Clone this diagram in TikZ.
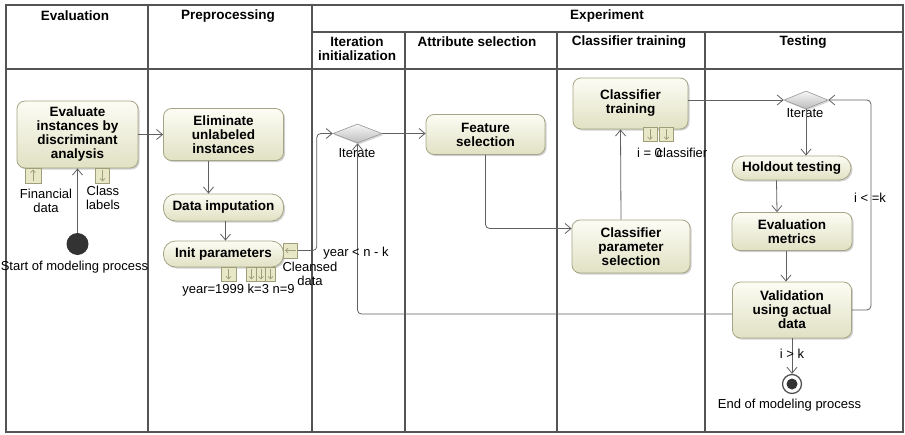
\documentclass[tikz,border=0pt]{standalone}
\usepackage{fontspec}
\setmainfont{Liberation Sans}
\usepackage{xcolor}
\usepackage{tikz}
\usetikzlibrary{arrows.meta, positioning, shapes.geometric, shadows}
\definecolor{umlLane}{HTML}{545454}
\definecolor{umlEdge}{HTML}{606060}
\definecolor{umlActTop}{HTML}{FCFCF4}
\definecolor{umlActBot}{HTML}{E1E1C4}
\definecolor{umlActLine}{HTML}{A5A585}
\definecolor{umlPinFill}{HTML}{E8E8C9}
\definecolor{umlPinLine}{HTML}{9E9E78}
\definecolor{umlDecTop}{HTML}{F6F6F6}
\definecolor{umlDecBot}{HTML}{BDBDBD}
\definecolor{umlDot}{HTML}{333333}

\begin{document}
\begin{tikzpicture}[x=1pt, y=-1pt,
  every node/.style={font=\fontsize{13}{14}\selectfont, align=center,
                     inner sep=1pt},
  lane/.style={draw=umlLane, line width=1.9pt},
  head/.style={font=\fontsize{13.5}{14}\selectfont\bfseries},
  action/.style={draw=umlActLine, line width=0.8pt, rounded corners=8pt,
                 top color=umlActTop, bottom color=umlActBot,
                 font=\fontsize{13.5}{14}\selectfont\bfseries,
                 drop shadow={shadow xshift=1.5pt, shadow yshift=-1.5pt,
                              fill=black!40, opacity=0.45}},
  pill/.style={action, rounded corners=12pt},
  decision/.style={diamond, draw=umlDecBot!80!black, line width=0.6pt,
                   top color=umlDecTop, bottom color=umlDecBot,
                   minimum width=49pt, minimum height=19pt, inner sep=0pt,
                   drop shadow={shadow xshift=1.5pt, shadow yshift=-1.5pt,
                                fill=black!40, opacity=0.4}},
  pinbox/.style={draw=umlPinLine, line width=0.6pt, fill=umlPinFill,
                 minimum width=14pt, minimum height=14pt, inner sep=0pt},
  slimpin/.style={pinbox, minimum width=9.5pt},
  pinglyph/.style={draw=umlPinLine, line width=0.6pt,
                   -{Straight Barb[length=2.5pt, width=5pt]},
                   shorten <=2pt, shorten >=2pt},
  flow/.style={draw=umlEdge, line width=0.8pt,
               -{Straight Barb[length=6pt, width=10pt]}},
  elbow/.style={flow, rounded corners=4pt},
  startnode/.style={circle, fill=umlDot, minimum size=22pt, inner sep=0pt},
  endnode/.style={circle, draw=umlLane, line width=1.3pt, fill=white,
                  minimum size=19pt, inner sep=0pt},
]
\useasboundingbox (0,0) rectangle (905,434);

% --- Swimlane frame and headers --------------------------------------
\draw[lane] (6,5) rectangle (903,432);
\draw[lane] (148,5) -- (148,432);
\draw[lane] (312,5) -- (312,432);
\draw[lane] (405,32) -- (405,432);
\draw[lane] (557,32) -- (557,432);
\draw[lane] (705,32) -- (705,432);
\draw[lane] (312,32) -- (903,32);
\draw[lane] (6,69) -- (903,69);

\node[head] (hEval)  at (75,16)    {Evaluation};
\node[head] (hPrep)  at (228,16)   {Preprocessing};
\node[head] (hExp)   at (607,16)   {Experiment};
\node[head] (hInit)  at (357,48.5) {Iteration\\initialization};
\node[head] (hAttr)  at (477,42)   {Attribute selection};
\node[head] (hTrain) at (629,42)   {Classifier training};
\node[head] (hTest)  at (803,42)   {Testing};

% --- Evaluation lane -------------------------------------------------
\node[action, minimum width=121pt, minimum height=67pt] (eval)
  at (77.5,134.5) {Evaluate\\instances by\\discriminant\\analysis};
\node[pinbox, minimum width=16pt, minimum height=15pt] (finPin) at (33,175.5) {};
\node[pinbox, minimum height=15pt] (clsPin) at (102.5,175.5) {};
\draw[pinglyph] (finPin.south) -- (finPin.north);
\draw[pinglyph] (clsPin.north) -- (clsPin.south);
\node (finLbl) at (46,200.5)  {Financial\\data};
\node (clsLbl) at (103,197.5) {Class\\labels};

\node[startnode] (start) at (77.5,244) {};
\node (startLbl) at (74.5,267) {Start of modeling process};

% --- Preprocessing lane ----------------------------------------------
\node[action, minimum width=120pt, minimum height=52pt] (elim)
  at (223.5,134.5) {Eliminate\\unlabeled\\instances};
\node[pill, minimum width=120pt, minimum height=27pt] (imput)
  at (223.5,207.5) {Data imputation};
\node[pill, minimum width=120pt, minimum height=26pt] (init)
  at (223.5,254) {Init parameters};

\node[pinbox, minimum width=15pt] (yearPin) at (228.5,274) {};
\node[slimpin] (kPin)  at (251.5,274) {};
\node[slimpin] (nPin)  at (261,274)   {};
\node[slimpin] (n2Pin) at (270.5,274) {};
\draw[pinglyph] (yearPin.north) -- (yearPin.south);
\draw[pinglyph] (kPin.north) -- (kPin.south);
\draw[pinglyph] (nPin.north) -- (nPin.south);
\draw[pinglyph] (n2Pin.north) -- (n2Pin.south);
\node (parLbl) at (238.5,290) {year=1999 k=3 n=9};

\node[pinbox, minimum width=14pt, minimum height=15pt] (clnPin) at (290.5,250.5) {};
\draw[pinglyph] (clnPin.east) -- (clnPin.west);
\node (clnLbl) at (310,273.5) {Cleansed\\data};

% --- Experiment lanes ------------------------------------------------
\node[decision] (iter1) at (357.5,133.5) {};
\node (iter1Lbl) at (357,153.5) {Iterate};

\node[action, minimum width=119pt, minimum height=40pt] (feat)
  at (485.5,134.5) {Feature\\selection};

\node[action, minimum width=115pt, minimum height=51pt] (clstrain)
  at (630.5,103.5) {Classifier\\training};
\node[pinbox] (iPin)  at (650,134.5)   {};
\node[pinbox] (cfPin) at (666.5,134.5) {};
\draw[pinglyph] (iPin.north) -- (iPin.south);
\draw[pinglyph] (cfPin.north) -- (cfPin.south);
\node (iLbl)  at (649.5,153) {i = 0};
\node (cfLbl) at (682,153)   {classifier};

\node[action, minimum width=118pt, minimum height=53pt] (clsparam)
  at (631,246.5) {Classifier\\parameter\\selection};

\node[decision, minimum width=44pt, minimum height=18pt] (iter2) at (806,100) {};
\node (iter2Lbl) at (805,113.5) {Iterate};

\node[pill, minimum width=119pt, minimum height=24pt] (hold)
  at (791.5,168) {Holdout testing};
\node[action, minimum width=120pt, minimum height=38pt] (evalm)
  at (792,231.5) {Evaluation\\metrics};
\node[action, minimum width=119pt, minimum height=56pt] (valid)
  at (792,310) {Validation\\using actual\\data};

\node[endnode] (final) at (792,384) {};
\fill[umlDot] (final) circle (5.5);
\node (finalLbl) at (789.5,405) {End of modeling process};

% --- Control flows ---------------------------------------------------
\draw[flow] (start.north) -- (eval.south);
\draw[flow] (eval.east) -- (elim.west);
\draw[flow] ([xshift=-15pt]elim.south) -- ([xshift=-15pt]imput.north);
\draw[flow] ([xshift=2pt]imput.south) -- ([xshift=2pt]init.north);
\draw[elbow] (clnPin.east) -- ++(19,0) |- (iter1.west);
\draw[flow] (iter1.east) -- (iter1.east -| feat.west);
\draw[elbow] (feat.south) |- ([yshift=18pt]clsparam.west);
\draw[flow] ([xshift=-10pt]clsparam.north) -- ([xshift=-10pt]clstrain.south);
\draw[flow] (clstrain.east |- iter2.west) -- (iter2.west);
\draw[flow] (iter2.south) -- (iter2.south |- hold.north);
\draw[flow] ([xshift=-15pt]hold.south) -- ([xshift=-15pt]evalm.north);
\draw[flow] ([xshift=-6pt]evalm.south) -- ([xshift=-6pt]valid.north);
\draw[elbow] (valid.east) -- ++(19,0) |- (iter2.east);
\draw[elbow] ([yshift=-4pt]valid.west) -| (iter1.south);
\draw[flow] (valid.south) -- (final.north);

% guards
\node (gYear) at (356,253) {year < n - k};
\node (gLoop) at (870,198) {i < =k};
\node (gDone) at (792,354) {i > k};
\end{tikzpicture}
\end{document}
